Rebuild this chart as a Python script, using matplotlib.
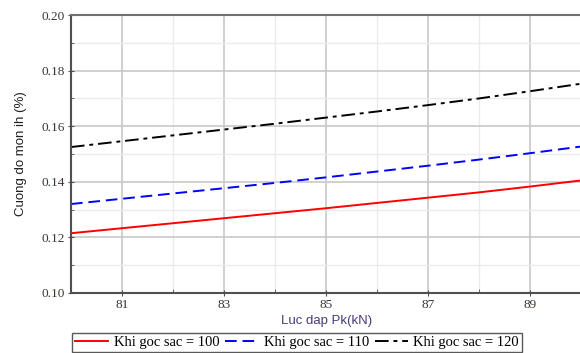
import matplotlib.pyplot as plt
import numpy as np
from matplotlib.ticker import MultipleLocator

pk = [80, 81, 82, 83, 84, 85, 86, 87, 88, 89, 90]
y100 = [0.1215, 0.1233, 0.1251, 0.1269, 0.1287, 0.1305, 0.1324, 0.1343, 0.1362, 0.1383, 0.1405]
y110 = [0.1320, 0.1339, 0.1358, 0.1377, 0.1396, 0.1416, 0.1437, 0.1458, 0.1480, 0.1503, 0.1527]
y120 = [0.1525, 0.1546, 0.1567, 0.1588, 0.1609, 0.1631, 0.1653, 0.1676, 0.1700, 0.1726, 0.1753]
labels = ["Khi goc sac = 100", "Khi goc sac = 110", "Khi goc sac = 120"]

fig = plt.figure(figsize=(5.8, 3.53), dpi=100)
ax = fig.add_axes([0.1224, 0.170, 0.880, 0.7875])

l1, = ax.plot(pk, y100, color="red", lw=1.4, label=labels[0])
l2, = ax.plot(pk, y110, color="blue", lw=1.4, dashes=(6, 3), label=labels[1])
l3, = ax.plot(pk, y120, color="black", lw=1.4, dashes=(7, 2.5, 2, 2.5), label=labels[2])

ax.set_xlim(80, 90)
ax.set_ylim(0.10, 0.20)
ax.set_xticks([81, 83, 85, 87, 89])
ax.xaxis.set_minor_locator(MultipleLocator(1))
ax.set_yticks([0.10, 0.12, 0.14, 0.16, 0.18, 0.20])
ax.set_yticklabels(["0.10", "0.12", "0.14", "0.16", "0.18", "0.20"])
ax.yaxis.set_minor_locator(MultipleLocator(0.01))

ax.grid(True, which="major", color="#c8c8c8", lw=1.2)
ax.grid(True, which="minor", color="#ebebeb", lw=1.0)
ax.set_axisbelow(True)

for s in ["left", "bottom", "top"]:
    ax.spines[s].set_color("#505050")
    ax.spines[s].set_linewidth(1.5)
ax.spines["top"].set_color("#707070")
ax.spines["right"].set_visible(False)

ax.tick_params(which="major", direction="inout", length=5, color="#505050",
               labelsize=9.5, labelcolor="#3c3530", pad=2)
ax.tick_params(which="minor", direction="in", length=2.5, color="#505050")
for t in ax.get_xticklabels() + ax.get_yticklabels():
    t.set_family("Liberation Serif")
ax.tick_params(axis="x", which="minor", direction="in", length=3)

ax.set_xlabel("Luc dap Pk(kN)", family="Liberation Sans", fontsize=9.5,
              color="#4a3a7a", labelpad=3)
ax.set_ylabel("Cuong do mon ih (%)", family="Liberation Sans", fontsize=9.5,
              color="#202020", labelpad=10)

leg = fig.legend(handles=[l1, l2, l3], ncol=3, loc="lower left",
                 bbox_to_anchor=(72 / 580, 1 / 353),
                 prop={"family": "Liberation Serif", "size": 10.5},
                 frameon=True, fancybox=False, edgecolor="#303030",
                 handlelength=2.3, handletextpad=0.35, columnspacing=0.4,
                 borderpad=0.2, borderaxespad=0)
leg.get_frame().set_linewidth(1.0)

fig.savefig("out.png", dpi=100)
